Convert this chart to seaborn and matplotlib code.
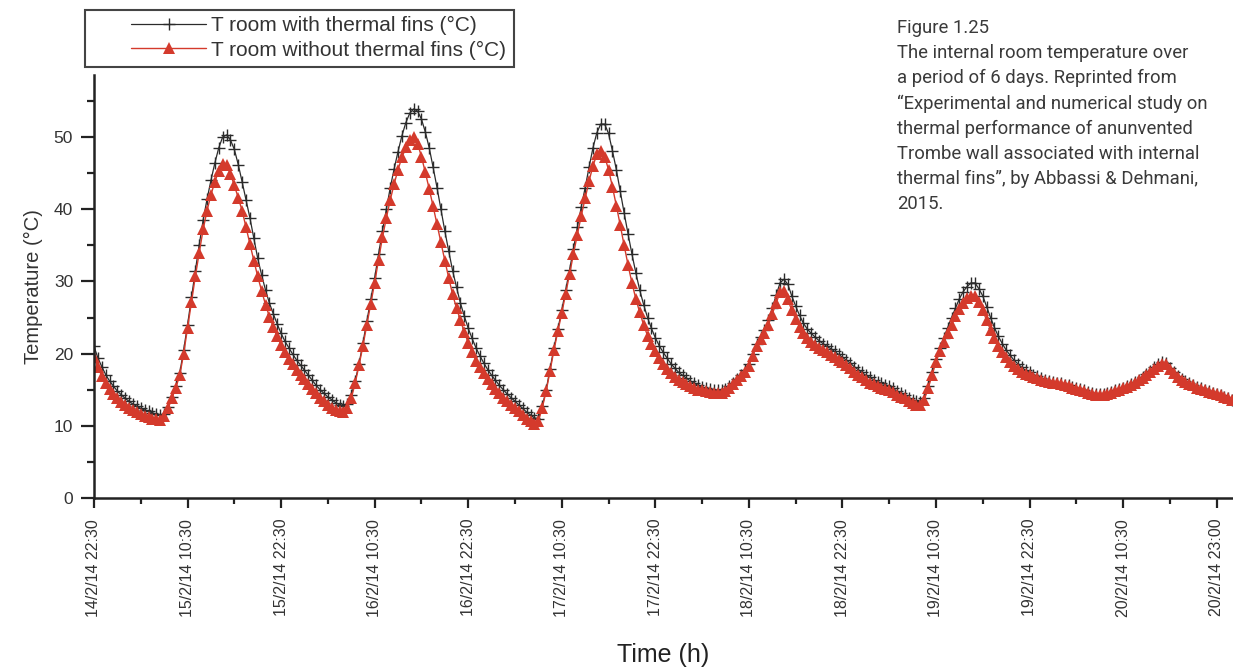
import numpy as np
import pandas as pd
import matplotlib
matplotlib.use("Agg")
import matplotlib.pyplot as plt
import seaborn as sns
from matplotlib.ticker import MultipleLocator, FixedLocator
from matplotlib.patches import Rectangle

# ---------------- data (readings every 30 min from 14/2/14 22:30) ----------------
t_with_fins = [
    21.0, 19.4, 18.2, 17.1, 16.2, 15.5, 14.8, 14.3, 13.8, 13.4, 13.0, 12.7, 12.4, 12.2, 12.0, 11.8, 11.6, 11.5,
    11.6, 12.6, 14.0, 15.5, 17.3, 20.5, 24.0, 27.8, 31.5, 35.1, 38.5, 41.4, 44.0, 46.4, 48.5, 50.0, 50.3, 49.6,
    48.3, 46.2, 43.8, 41.3, 38.8, 36.0, 33.2, 30.9, 28.8, 27.0, 25.5, 24.1, 22.8, 21.7, 20.8, 19.9, 19.1, 18.4,
    17.7, 17.0, 16.3, 15.6, 15.0, 14.5, 14.0, 13.6, 13.2, 12.9, 12.8, 13.0, 14.2, 16.2, 18.6, 21.5, 24.5, 27.5,
    30.5, 33.8, 37.0, 40.0, 43.0, 45.6, 48.0, 50.2, 52.0, 53.3, 53.9, 53.6, 52.5, 50.7, 48.5, 45.8, 43.0, 40.0,
    37.0, 34.2, 31.5, 29.2, 27.0, 25.2, 23.5, 22.1, 20.8, 19.7, 18.7, 17.8, 17.0, 16.3, 15.6, 15.0, 14.4, 13.9,
    13.4, 12.9, 12.4, 11.9, 11.5, 11.1, 11.0, 12.7, 15.0, 17.9, 20.8, 23.4, 26.0, 28.8, 31.6, 34.5, 37.5, 40.3,
    43.0, 45.8, 48.5, 50.6, 51.8, 51.8, 50.5, 48.1, 45.5, 42.5, 39.5, 36.6, 33.8, 31.2, 28.8, 26.8, 25.0, 23.5,
    22.2, 21.1, 20.2, 19.4, 18.6, 18.0, 17.4, 17.0, 16.6, 16.2, 15.9, 15.6, 15.4, 15.2, 15.1, 15.0, 14.9, 15.0,
    15.1, 15.5, 16.0, 16.5, 17.1, 17.8, 18.6, 20.0, 21.3, 22.3, 23.3, 24.6, 26.3, 28.1, 29.8, 30.3, 29.6, 28.0,
    26.6, 25.3, 24.2, 23.4, 22.8, 22.3, 21.8, 21.4, 21.0, 20.7, 20.3, 19.9, 19.5, 19.1, 18.7, 18.2, 17.8, 17.4,
    17.0, 16.7, 16.4, 16.1, 15.9, 15.7, 15.5, 15.2, 14.8, 14.5, 14.2, 13.9, 13.6, 13.4, 13.3, 13.8, 15.5, 17.4,
    19.2, 20.8, 22.2, 23.6, 25.0, 26.3, 27.6, 28.6, 29.3, 29.8, 29.8, 29.0, 28.0, 26.5, 25.0, 23.6, 22.4, 21.4,
    20.5, 19.8, 19.1, 18.6, 18.1, 17.7, 17.4, 17.1, 16.9, 16.6, 16.4, 16.2, 16.1, 16.0, 15.9, 15.7, 15.6, 15.4,
    15.2, 15.1, 14.9, 14.7, 14.5, 14.4, 14.4, 14.4, 14.5, 14.7, 14.9, 15.1, 15.3, 15.5, 15.8, 16.1, 16.4, 16.7,
    17.2, 17.6, 18.1, 18.5, 18.8, 18.7, 18.0, 17.4, 16.9, 16.5, 16.2, 15.9, 15.7, 15.4, 15.2, 15.0, 14.8, 14.6,
    14.4, 14.2, 14.0, 13.8, 13.6,
]
t_without_fins = [
    19.5, 18.1, 16.9, 15.9, 15.1, 14.4, 13.8, 13.3, 12.9, 12.5, 12.2, 11.9, 11.6, 11.4, 11.2, 11.0, 10.9, 10.8,
    11.3, 12.4, 13.8, 15.3, 17.0, 20.0, 23.5, 27.1, 30.7, 34.0, 37.2, 39.8, 42.0, 43.8, 45.3, 46.3, 46.2, 44.9,
    43.3, 41.6, 39.8, 37.5, 35.2, 32.9, 30.7, 28.7, 26.8, 25.1, 23.7, 22.4, 21.2, 20.2, 19.3, 18.5, 17.8, 17.1,
    16.5, 15.8, 15.1, 14.5, 13.9, 13.4, 12.9, 12.5, 12.2, 12.0, 11.9, 12.4, 13.8, 15.9, 18.4, 21.1, 24.0, 26.9,
    29.8, 33.0, 36.1, 38.8, 41.3, 43.5, 45.5, 47.2, 48.6, 49.6, 50.0, 49.1, 47.3, 45.1, 42.8, 40.4, 37.9, 35.4,
    32.9, 30.5, 28.2, 26.3, 24.6, 23.0, 21.5, 20.2, 19.0, 18.1, 17.3, 16.5, 15.8, 15.1, 14.5, 13.9, 13.4, 12.9,
    12.5, 12.0, 11.5, 11.0, 10.6, 10.3, 10.6, 12.5, 14.8, 17.6, 20.5, 23.1, 25.6, 28.3, 31.0, 33.8, 36.5, 39.1,
    41.5, 43.9, 46.0, 47.6, 48.1, 47.3, 45.5, 43.1, 40.5, 37.8, 35.0, 32.3, 29.8, 27.6, 25.7, 24.0, 22.5, 21.3,
    20.3, 19.4, 18.6, 17.9, 17.3, 16.8, 16.4, 16.1, 15.8, 15.5, 15.2, 15.0, 14.9, 14.8, 14.7, 14.6, 14.5, 14.6,
    14.8, 15.2, 15.8, 16.3, 16.9, 17.5, 18.3, 19.7, 21.0, 22.0, 22.9, 24.0, 25.5, 27.0, 28.5, 28.7, 27.5, 26.0,
    24.8, 23.7, 22.9, 22.2, 21.6, 21.2, 20.8, 20.5, 20.2, 19.8, 19.5, 19.1, 18.8, 18.4, 18.0, 17.5, 17.1, 16.7,
    16.3, 16.0, 15.8, 15.5, 15.3, 15.1, 15.0, 14.7, 14.3, 14.0, 13.8, 13.5, 13.1, 12.9, 12.9, 13.6, 15.2, 17.0,
    18.8, 20.3, 21.6, 22.8, 24.0, 25.2, 26.2, 27.0, 27.7, 28.0, 28.0, 27.1, 26.0, 24.6, 23.3, 22.1, 21.0, 20.2,
    19.5, 18.9, 18.3, 17.9, 17.5, 17.2, 17.0, 16.8, 16.6, 16.4, 16.2, 16.1, 16.0, 15.9, 15.8, 15.6, 15.5, 15.3,
    15.1, 15.0, 14.8, 14.6, 14.4, 14.3, 14.3, 14.3, 14.4, 14.6, 14.8, 15.0, 15.2, 15.4, 15.7, 16.0, 16.3, 16.6,
    17.0, 17.5, 17.9, 18.3, 18.6, 18.5, 17.9, 17.3, 16.8, 16.4, 16.1, 15.8, 15.6, 15.3, 15.1, 14.9, 14.7, 14.5,
    14.4, 14.2, 14.0, 13.8, 13.6,
]
tick_labels = [
    "14/2/14 22:30", "15/2/14 10:30", "15/2/14 22:30", "16/2/14 10:30", "16/2/14 22:30",
    "17/2/14 10:30", "17/2/14 22:30", "18/2/14 10:30", "18/2/14 22:30", "19/2/14 10:30",
    "19/2/14 22:30", "20/2/14 10:30", "20/2/14 23:00",
]
series_labels = ["T room with thermal fins (°C)", "T room without thermal fins (°C)"]
caption = ("Figure 1.25\n"
           "The internal room temperature over\n"
           "a period of 6 days. Reprinted from\n"
           "\u201cExperimental and numerical study on\n"
           "thermal performance of anunvented\n"
           "Trombe wall associated with internal\n"
           "thermal fins\u201d, by Abbassi & Dehmani,\n"
           "2015.")

hours = np.arange(len(t_with_fins)) * 0.5
df = pd.DataFrame({"h": hours, "with": t_with_fins, "without": t_without_fins})

# ---------------- style ----------------
sns.set_theme(style="ticks")
plt.rcParams['font.family'] = ['Liberation Sans', 'DejaVu Sans']

W, H = 1233, 672
fig = plt.figure(figsize=(W / 100, H / 100), dpi=100)
ax = fig.add_axes([94 / W, 1 - 498 / H, 1 - 94 / W, (498 - 75) / H])

black = "#2b2b2b"
red = "#d43a2c"
sns.lineplot(data=df, x="h", y="with", ax=ax, color=black, linewidth=0.9,
             marker="+", markersize=8, markeredgewidth=1.0, markeredgecolor=black,
             label=series_labels[0])
sns.lineplot(data=df, x="h", y="without", ax=ax, color=red, linewidth=1.0,
             marker="^", markersize=9, markeredgewidth=0, markerfacecolor=red,
             label=series_labels[1])

ax.set_xlim(0, 146.1)
ax.set_ylim(0, 58.6)

tick_pos = [12 * i for i in range(len(tick_labels))]
ax.xaxis.set_major_locator(FixedLocator(tick_pos))
ax.xaxis.set_minor_locator(FixedLocator([6 + 12 * i for i in range(len(tick_labels) - 1)]))
ax.set_xticklabels(tick_labels, rotation=90, fontsize=11.5, color="#333333")
ax.yaxis.set_major_locator(MultipleLocator(10))
ax.yaxis.set_minor_locator(MultipleLocator(5))
ax.tick_params(axis="y", labelsize=12.5, colors="#333333")
ax.tick_params(axis="y", which="major", length=9.5, width=1.6, color="#222222", direction="out", pad=5.5)
ax.tick_params(axis="y", which="minor", length=5, width=1.6, color="#222222", direction="out")
ax.tick_params(axis="x", which="major", length=7, width=1.6, color="#222222", direction="out", pad=8)
ax.tick_params(axis="x", which="minor", length=4, width=1.6, color="#222222", direction="out")

for s in ["top", "right"]:
    ax.spines[s].set_visible(False)
for s in ["left", "bottom"]:
    ax.spines[s].set_linewidth(1.8)
    ax.spines[s].set_color("#222222")

ax.set_ylabel("Temperature (°C)", fontsize=14.5, color="#333333", labelpad=8)
ax.set_xlabel("Time (h)", fontsize=18, color="#222222", labelpad=19)

ax.get_legend().remove()
handles, labels = ax.get_legend_handles_labels()
leg = fig.legend(handles, labels, loc="upper left", bbox_to_anchor=(131 / W, 1 - 16 / H),
                 fontsize=15, frameon=False, handlelength=3.6,
                 borderpad=0.0, labelspacing=0.27, handletextpad=0.25, borderaxespad=0)
for t in leg.get_texts():
    t.set_color("#333333")
fig.patches.append(Rectangle((85 / W, 1 - 67 / H), (514 - 85) / W, (67 - 10) / H,
                             transform=fig.transFigure, fill=False,
                             edgecolor="#444444", linewidth=1.5))

fig.text(897 / W, 1 - 19 / H, caption, ha="left", va="top", fontsize=13.3,
         family=["Roboto", "DejaVu Sans"], color="#3a3a3a", linespacing=1.5)

fig.savefig("out.png", dpi=100, facecolor="white")
